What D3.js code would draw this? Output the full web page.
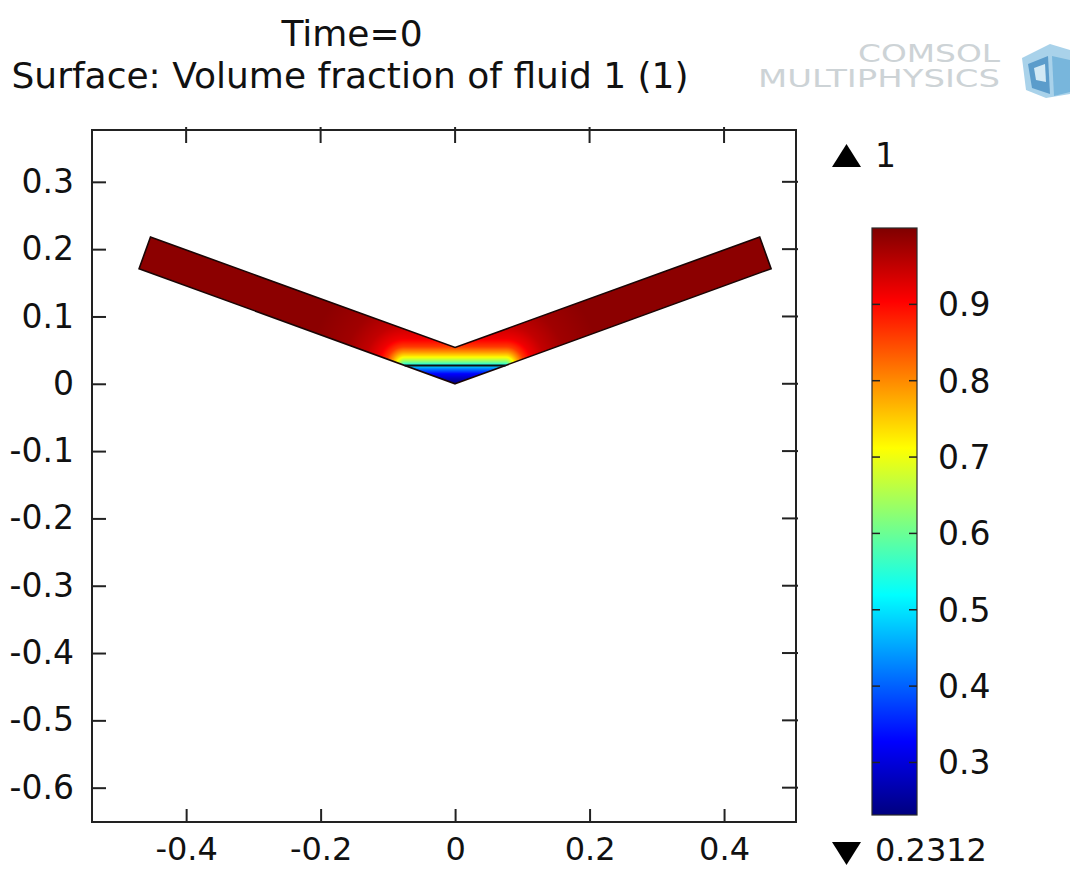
<!DOCTYPE html>
<html><head><meta charset="utf-8">
<script src="https://cdn.jsdelivr.net/npm/d3@7"></script>
<style>
html,body{margin:0;padding:0;background:#fff;}
svg{display:block;}
text{font-family:"DejaVu Sans",Verdana,sans-serif;}
</style></head><body>
<svg id="chart" width="1070" height="869"></svg>
<script>
// ---------- data ----------
const titleLines = ["Time=0", "Surface: Volume fraction of fluid 1 (1)"];
const xTicks = [-0.4, -0.2, 0, 0.2, 0.4];
const xTickLabels = ["-0.4", "-0.2", "0", "0.2", "0.4"];
const yTicks = [0.3, 0.2, 0.1, 0, -0.1, -0.2, -0.3, -0.4, -0.5, -0.6];
const yTickLabels = ["0.3", "0.2", "0.1", "0", "-0.1", "-0.2", "-0.3", "-0.4", "-0.5", "-0.6"];
const xLimits = [-0.54, 0.507];
const yLimits = [-0.651, 0.377];
// V-shaped channel outline (geometry vertices)
const channelX = [0, 0.470, 0.453, 0, -0.453, -0.470];
const channelY = [0, 0.171, 0.218, 0.054, 0.218, 0.171];
// initial fluid interface segment
const interfaceX = [-0.075, 0.075];
const interfaceY = [0.027, 0.027];
// volume fraction profile vs. signed distance from the interface
const profileDist = [-0.028, -0.02, -0.012, -0.005, 0, 0.003, 0.006, 0.01, 0.015, 0.02, 0.028, 0.04, 0.06, 0.09, 0.14];
const profilePhi  = [0.2312, 0.27, 0.33, 0.42, 0.5, 0.57, 0.62, 0.68, 0.74, 0.79, 0.86, 0.915, 0.95, 0.975, 0.99];
// colour legend
const colorRange = [0.2312, 1];
const colorTicks = [0.3, 0.4, 0.5, 0.6, 0.7, 0.8, 0.9];
const colorTickLabels = ["0.3", "0.4", "0.5", "0.6", "0.7", "0.8", "0.9"];
const colorMaxLabel = "1";
const colorMinLabel = "0.2312";
const jetPositions = [0, 0.125, 0.375, 0.625, 0.875, 1];
const jetColors = ["#00007f", "#0000ff", "#00ffff", "#ffff00", "#ff0000", "#7f0000"];
const logoLines = ["COMSOL", "MULTIPHYSICS"];

// ---------- layout ----------
const svg = d3.select("#chart");
const plot = {left: 92, right: 796, top: 130, bottom: 822};
const x = d3.scaleLinear().domain(xLimits).range([plot.left, plot.right]);
const y = d3.scaleLinear().domain(yLimits).range([plot.bottom, plot.top]);

const valueToT = d3.scaleLinear().domain(colorRange).range([0, 1]);
const jet = d3.scaleLinear().domain(jetPositions).range(jetColors).interpolate(d3.interpolateRgb).clamp(true);
const color = v => jet(valueToT(v));
const phiOfDist = d3.scaleLinear().domain(profileDist).range(profilePhi).clamp(true);

svg.append("rect").attr("width", 1070).attr("height", 869).attr("fill", "#fff");

// titles
svg.append("text").attr("x", 352).attr("y", 46).attr("text-anchor", "middle")
  .attr("font-size", 36).attr("fill", "#111").text(titleLines[0]);
svg.append("text").attr("x", 350).attr("y", 88).attr("text-anchor", "middle")
  .attr("font-size", 36).attr("fill", "#111").text(titleLines[1]);

// logo
const logo = svg.append("g");
logo.append("text").attr("x", 858).attr("y", 62).attr("font-size", 24)
  .attr("textLength", 142).attr("lengthAdjust", "spacingAndGlyphs")
  .attr("fill", "#cdd3d6").text(logoLines[0]);
logo.append("text").attr("x", 758).attr("y", 87).attr("font-size", 24)
  .attr("textLength", 242).attr("lengthAdjust", "spacingAndGlyphs")
  .attr("fill", "#cdd3d6").text(logoLines[1]);
logo.append("polygon").attr("points", "1022,58 1050,44 1070,50 1070,94 1046,98 1026,90").attr("fill", "#a9d2ea");
logo.append("polygon").attr("points", "1028,64 1048,56 1050,94 1032,88").attr("fill", "#5b9ccb");
logo.append("polygon").attr("points", "1052,56 1070,60 1070,92 1054,96").attr("fill", "#78b6dc");
logo.append("polygon").attr("points", "1034,68 1045,64 1046,82 1036,80").attr("fill", "#d2e9f5");

// ---------- field ----------
const pts = channelX.map((d, i) => [x(d), y(channelY[i])]);
svg.append("defs").append("clipPath").attr("id", "chanClip")
  .append("path").attr("d", d3.line()(pts) + "Z");

const bx0 = Math.floor(d3.min(pts, p => p[0])) - 1;
const bx1 = Math.ceil(d3.max(pts, p => p[0])) + 1;
const by0 = Math.floor(d3.min(pts, p => p[1])) - 1;
const by1 = Math.ceil(d3.max(pts, p => p[1])) + 1;
const W = bx1 - bx0, H = by1 - by0;
const cv = document.createElement("canvas");
cv.width = W; cv.height = H;
const ctx = cv.getContext("2d");
const img = ctx.createImageData(W, H);
const xe = interfaceX[1], yi = interfaceY[0];
for (let j = 0; j < H; j++) {
  const dy = y.invert(by0 + j + 0.5);
  for (let i = 0; i < W; i++) {
    const dx = x.invert(bx0 + i + 0.5);
    const ax = Math.abs(dx);
    let dist = dy - yi;
    if (ax > xe) {
      const h = Math.hypot(ax - xe, dy - yi);
      dist = dy >= yi ? h : -h;
    }
    const c = d3.rgb(color(phiOfDist(dist)));
    const k = (j * W + i) * 4;
    img.data[k] = c.r; img.data[k + 1] = c.g; img.data[k + 2] = c.b; img.data[k + 3] = 255;
  }
}
ctx.putImageData(img, 0, 0);
svg.append("image").attr("x", bx0).attr("y", by0).attr("width", W).attr("height", H)
  .attr("preserveAspectRatio", "none")
  .attr("href", cv.toDataURL()).attr("clip-path", "url(#chanClip)");

svg.append("path").attr("d", d3.line()(pts) + "Z").attr("fill", "none")
  .attr("stroke", "#1a0505").attr("stroke-width", 1.6).attr("stroke-linejoin", "miter");
svg.append("line")
  .attr("x1", x(interfaceX[0])).attr("x2", x(interfaceX[1]))
  .attr("y1", y(interfaceY[0])).attr("y2", y(interfaceY[1]))
  .attr("stroke", "#111").attr("stroke-width", 2);

// ---------- axes ----------
const xAxis = d3.axisBottom(x).tickValues(xTicks).tickFormat((d, i) => xTickLabels[i])
  .tickSizeInner(-13).tickSizeOuter(0).tickPadding(15);
const yAxis = d3.axisLeft(y).tickValues(yTicks).tickFormat((d, i) => yTickLabels[i])
  .tickSizeInner(-14).tickSizeOuter(0).tickPadding(18);
const gx = svg.append("g").attr("transform", `translate(0,${plot.bottom})`).call(xAxis);
const gy = svg.append("g").attr("transform", `translate(${plot.left},0)`).call(yAxis);
[gx, gy].forEach(g => {
  g.select(".domain").remove();
  g.attr("font-family", null);
  g.selectAll(".tick line").attr("stroke", "#222").attr("stroke-width", 2);
  g.selectAll(".tick text").attr("fill", "#111");
});
gx.attr("font-size", 32);
gy.attr("font-size", 33);
// mirrored ticks on top and right
svg.append("g").selectAll("line").data(xTicks).join("line")
  .attr("x1", d => x(d)).attr("x2", d => x(d))
  .attr("y1", plot.top - 3).attr("y2", plot.top + 13)
  .attr("stroke", "#222").attr("stroke-width", 2);
svg.append("g").selectAll("line").data(yTicks).join("line")
  .attr("y1", d => y(d)).attr("y2", d => y(d))
  .attr("x1", plot.right - 14).attr("x2", plot.right + 2)
  .attr("stroke", "#222").attr("stroke-width", 2);
svg.append("rect").attr("x", plot.left).attr("y", plot.top)
  .attr("width", plot.right - plot.left).attr("height", plot.bottom - plot.top)
  .attr("fill", "none").attr("stroke", "#222").attr("stroke-width", 2);

// ---------- colour bar ----------
const cb = {x: 872, w: 45, top: 228, bottom: 815};
const cy = d3.scaleLinear().domain(colorRange).range([cb.bottom, cb.top]);
const grad = svg.select("defs").append("linearGradient").attr("id", "jetGrad")
  .attr("x1", 0).attr("y1", 1).attr("x2", 0).attr("y2", 0);
grad.selectAll("stop").data(jetPositions).join("stop")
  .attr("offset", d => d).attr("stop-color", (d, i) => jetColors[i]);
svg.append("rect").attr("x", cb.x).attr("y", cb.top).attr("width", cb.w)
  .attr("height", cb.bottom - cb.top).attr("fill", "url(#jetGrad)")
  .attr("stroke", "#2a2a2a").attr("stroke-width", 1.2);
const cbt = svg.append("g");
cbt.selectAll("line.l").data(colorTicks).join("line").attr("class", "l")
  .attr("x1", cb.x).attr("x2", cb.x + 8).attr("y1", d => cy(d)).attr("y2", d => cy(d))
  .attr("stroke", "#222").attr("stroke-width", 1.5);
cbt.selectAll("line.r").data(colorTicks).join("line").attr("class", "r")
  .attr("x1", cb.x + cb.w - 8).attr("x2", cb.x + cb.w).attr("y1", d => cy(d)).attr("y2", d => cy(d))
  .attr("stroke", "#222").attr("stroke-width", 1.5);
cbt.selectAll("text").data(colorTicks).join("text")
  .attr("x", 938).attr("y", d => cy(d) + 12).attr("font-size", 33).attr("fill", "#111")
  .text((d, i) => colorTickLabels[i]);
svg.append("path").attr("d", "M832,167 L861,167 L846.5,144 Z").attr("fill", "#000");
svg.append("text").attr("x", 875).attr("y", 167).attr("font-size", 33).attr("fill", "#111").text(colorMaxLabel);
svg.append("path").attr("d", "M832,842 L861,842 L846.5,865 Z").attr("fill", "#000");
svg.append("text").attr("x", 875).attr("y", 861).attr("font-size", 32).attr("fill", "#111").text(colorMinLabel);
</script>
</body></html>
